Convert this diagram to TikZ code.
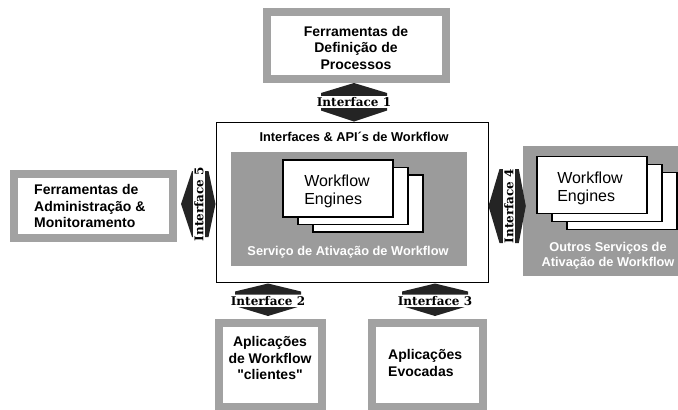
\documentclass[tikz,border=0pt]{standalone}
\usepackage{fontspec}
\setmainfont{Liberation Sans}[Ligatures=TeXOff]
\newfontfamily\ifacefont{DejaVu Serif}
\definecolor{framegray}{HTML}{A2A2A2}
\definecolor{svcgray}{HTML}{9B9B9B}
\definecolor{arrowdark}{HTML}{242424}
\begin{document}
\begin{tikzpicture}[x=1pt,y=-1pt,
  frame/.style={draw=framegray, line width=8pt, fill=white, inner sep=0pt},
  boxtext/.style={inner sep=0pt, font=\bfseries\fontsize{14}{16.5}\selectfont},
  engine/.style={draw=black, line width=1.4pt, fill=white, minimum width=110pt, minimum height=57pt, inner sep=0pt},
  enginetext/.style={inner sep=0pt, align=left, font=\fontsize{16}{18}\selectfont},
  svctext/.style={inner sep=0pt, text=white, align=center, font=\bfseries\fontsize{12.8}{15}\selectfont},
  iface/.style={fill=white, inner xsep=0.5pt, inner ysep=1pt, font=\ifacefont\bfseries\fontsize{12}{13}\selectfont},
  darrow/.style={fill=arrowdark}]
\useasboundingbox (0,0) rectangle (678,410);

% top box
\node[frame, minimum width=179pt, minimum height=67pt] (defbox) at (356.5,45.5) {};
\node[boxtext, align=center] (deftext) at (356,47.5) {Ferramentas de\\Defini\c{c}\~ao de\\Processos};

% main box
\node[draw=black, line width=1pt, minimum width=272pt, minimum height=160pt, inner sep=0pt] (main) at (352,202) {};
\node[inner sep=0pt, font=\bfseries\fontsize{12.8}{15}\selectfont] (maintitle) at (354,137) {Interfaces \& API´s de Workflow};
\node[fill=svcgray, minimum width=236pt, minimum height=114pt, inner sep=0pt] (svc) at (349,209) {};
\node[engine] (eng3) at (368,203.5) {};
\node[engine] (eng2) at (353,196) {};
\node[engine] (eng1) at (338,188.5) {};
\node[enginetext] (engtext) at (337,191) {Workflow\\Engines};
\node[svctext] (svclabel) at (348,252) {Servi\c{c}o de Ativa\c{c}\~ao de Workflow};

% left box
\node[frame, minimum width=159pt, minimum height=64pt] (admbox) at (93.5,206) {};
\node[boxtext, align=left, anchor=west] (admtext) at (34,206) {Ferramentas de\\Administra\c{c}\~ao \&\\Monitoramento};

% right box
\node[fill=svcgray, minimum width=155pt, minimum height=130pt, inner sep=0pt] (other) at (600.5,211) {};
\node[engine] (oeng3) at (622,201) {};
\node[engine] (oeng2) at (607,193) {};
\node[engine] (oeng1) at (592,185) {};
\node[enginetext] (oengtext) at (590,188) {Workflow\\Engines};
\node[svctext] (otherlabel) at (608,255.5) {Outros Servi\c{c}os de\\Ativa\c{c}\~ao de Workflow};

% bottom boxes
\node[frame, minimum width=103pt, minimum height=84pt] (clibox) at (270.5,365) {};
\node[boxtext, align=center] (clitext) at (270,358) {Aplica\c{c}\~oes\\de Workflow\\"clientes"};
\node[frame, minimum width=111pt, minimum height=84pt] (evobox) at (427.5,365) {};
\node[boxtext, align=left, anchor=west] (evotext) at (388,363) {Aplica\c{c}\~oes\\Evocadas};

% Interface 1
\coordinate (i1) at (354,102);
\fill[darrow] (defbox.south -| i1) -- ++(33,10) -- ++(0,3) -- ++(-66,0) -- ++(0,-3) -- cycle;
\fill[darrow] (main.north -| i1) -- ++(33,-11) -- ++(0,-3) -- ++(-66,0) -- ++(0,3) -- cycle;
\node[iface] (if1) at (i1) {Interface 1};

% Interface 2
\coordinate (i2) at (268,301);
\fill[darrow] (main.south -| i2) ++(0,1) -- ++(33,8) -- ++(0,3) -- ++(-66,0) -- ++(0,-3) -- cycle;
\fill[darrow] (clibox.north -| i2) ++(0,-3) -- ++(33,-10) -- ++(0,-3) -- ++(-66,0) -- ++(0,3) -- cycle;
\node[iface] (if2) at (i2) {Interface 2};

% Interface 3
\coordinate (i3) at (435,301);
\fill[darrow] (main.south -| i3) ++(0,1) -- ++(33,8) -- ++(0,3) -- ++(-66,0) -- ++(0,-3) -- cycle;
\fill[darrow] (evobox.north -| i3) ++(0,-3) -- ++(33,-10) -- ++(0,-3) -- ++(-66,0) -- ++(0,3) -- cycle;
\node[iface] (if3) at (i3) {Interface 3};

% Interface 5
\coordinate (i5) at (199,204);
\fill[darrow] (admbox.east |- i5) ++(4,0) -- ++(11,-33) -- ++(3,0) -- ++(0,66) -- ++(-3,0) -- cycle;
\fill[darrow] (main.west |- i5) -- ++(-7,-33) -- ++(-4,0) -- ++(0,66) -- ++(4,0) -- cycle;
\node[iface, rotate=90] (if5) at (i5) {Interface 5};

% Interface 4
\coordinate (i4) at (509,206);
\fill[darrow] (main.east |- i4) -- ++(11,-37) -- ++(4,0) -- ++(0,74) -- ++(-4,0) -- cycle;
\fill[darrow] (other.west |- i4) ++(3,0) -- ++(-7,-37) -- ++(-4,0) -- ++(0,74) -- ++(4,0) -- cycle;
\node[iface, rotate=90] (if4) at (i4) {Interface 4};
\end{tikzpicture}
\end{document}
